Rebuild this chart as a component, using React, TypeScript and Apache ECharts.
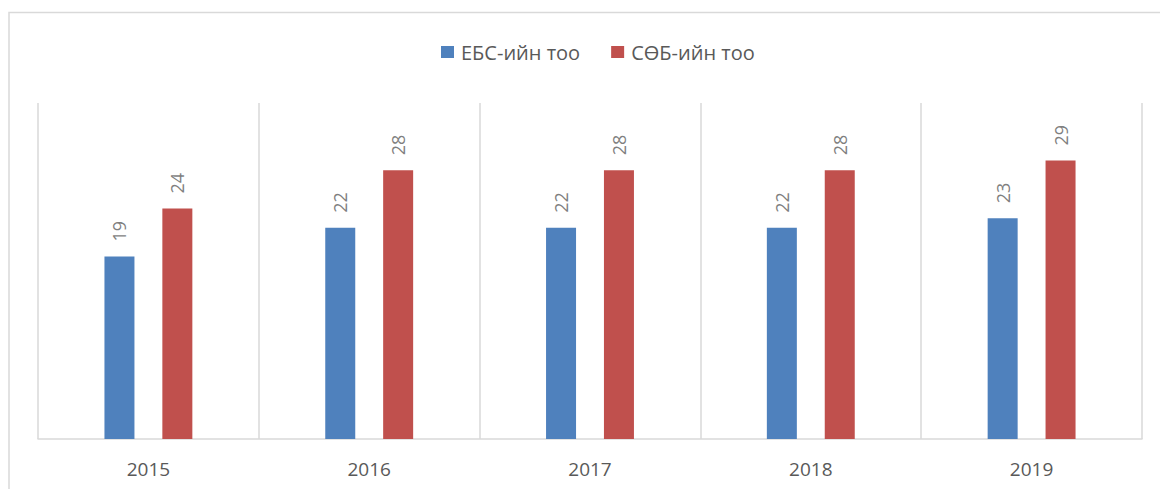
import React, { useEffect, useRef } from "react";
import * as echarts from "echarts";

const years = ["2015", "2016", "2017", "2018", "2019"];
const ebsCounts = [19, 22, 22, 22, 23];
const sobCounts = [24, 28, 28, 28, 29];
const seriesNames = ["ЕБС-ийн тоо", "СӨБ-ийн тоо"];

export default function App() {
  const ref = useRef<HTMLDivElement>(null);
  useEffect(() => {
    document.body.style.margin = "0";
    const chart = echarts.init(ref.current!, null, { renderer: "svg" });
    const font = "'Open Sans', 'Noto Sans', sans-serif";
    const label = {
      show: true,
      position: "top",
      rotate: 90,
      align: "left",
      verticalAlign: "middle",
      distance: 15,
      color: "#7f7f7f",
      fontSize: 18,
      fontFamily: font,
    };
    chart.setOption({
      animation: false,
      backgroundColor: "#ffffff",
      graphic: [
        {
          type: "rect",
          shape: { x: 9, y: 12.5, width: 1300, height: 700 },
          style: { fill: "none", stroke: "#d9d9d9", lineWidth: 1.5 },
          silent: true,
        },
      ],
      legend: {
        top: 37,
        left: 436,
        itemWidth: 13,
        itemHeight: 12,
        itemGap: 31,
        icon: "rect",
        textStyle: { fontSize: 20, color: "#595959", fontFamily: font, padding: [0, 0, 0, 2] },
        data: seriesNames,
      },
      grid: { left: 38, right: 18, top: 103, bottom: 50 },
      xAxis: {
        type: "category",
        data: years,
        axisLine: { lineStyle: { color: "#d9d9d9", width: 1.5 } },
        axisTick: { show: false },
        splitLine: { show: true, lineStyle: { color: "#d9d9d9", width: 1.5 } },
        axisLabel: { fontSize: 19, color: "#595959", margin: 20, fontFamily: font },
      },
      yAxis: {
        type: "value",
        min: 0,
        max: 35,
        show: false,
        splitLine: { show: false },
      },
      series: [
        {
          name: seriesNames[0],
          type: "bar",
          data: ebsCounts,
          barWidth: 30,
          barGap: "93%",
          itemStyle: { color: "#4f81bd" },
          label,
        },
        {
          name: seriesNames[1],
          type: "bar",
          data: sobCounts,
          barWidth: 30,
          itemStyle: { color: "#c0504d" },
          label,
        },
      ],
    });
    return () => chart.dispose();
  }, []);
  return <div ref={ref} style={{ width: 1160, height: 489 }} />;
}
